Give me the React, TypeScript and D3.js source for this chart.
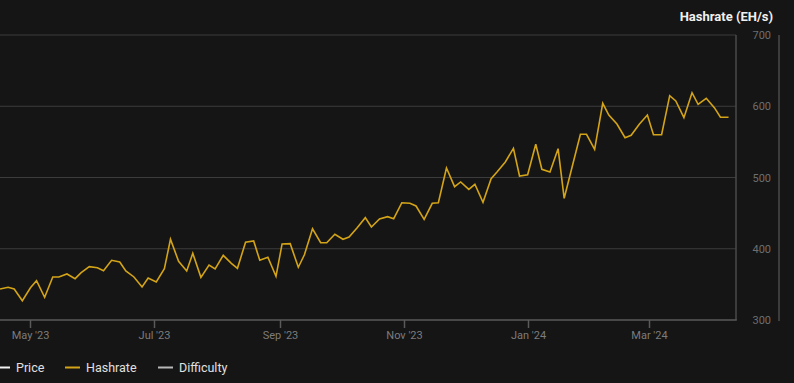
import React from "react";
import * as d3 from "d3";

const DATES: string[] = [
  "2023-04-16","2023-04-20","2023-04-23","2023-04-27","2023-05-01","2023-05-04","2023-05-08","2023-05-12",
  "2023-05-15","2023-05-19","2023-05-23","2023-05-26","2023-05-30","2023-06-03","2023-06-06","2023-06-10",
  "2023-06-14","2023-06-17","2023-06-21","2023-06-25","2023-06-28","2023-07-02","2023-07-06","2023-07-09",
  "2023-07-13","2023-07-17","2023-07-20","2023-07-24","2023-07-28","2023-07-31","2023-08-04","2023-08-08",
  "2023-08-11","2023-08-15","2023-08-19","2023-08-22","2023-08-26","2023-08-30","2023-09-02","2023-09-06",
  "2023-09-10","2023-09-13","2023-09-17","2023-09-21","2023-09-24","2023-09-28","2023-10-02","2023-10-05",
  "2023-10-09","2023-10-13","2023-10-16","2023-10-20","2023-10-24","2023-10-27","2023-10-31","2023-11-04",
  "2023-11-07","2023-11-11","2023-11-15","2023-11-18","2023-11-22","2023-11-26","2023-11-29","2023-12-03",
  "2023-12-06","2023-12-10","2023-12-14","2023-12-17","2023-12-21","2023-12-25","2023-12-28","2024-01-01",
  "2024-01-05","2024-01-08","2024-01-12","2024-01-16","2024-01-19","2024-01-23","2024-01-27","2024-01-30",
  "2024-02-03","2024-02-07","2024-02-10","2024-02-14","2024-02-18","2024-02-21","2024-02-25","2024-02-29",
  "2024-03-03","2024-03-07","2024-03-11","2024-03-14","2024-03-18","2024-03-22","2024-03-25","2024-03-29",
  "2024-04-02","2024-04-05","2024-04-09",
];

const HASHRATE: number[] = [
  343.5, 345.9, 343.5, 327.1, 345.3, 355.2, 331.9, 360.4, 360.4, 364.6,
  358.0, 366.4, 374.8, 373.4, 369.2, 383.8, 381.4, 368.8, 360.4, 346.3,
  358.9, 353.3, 372.0, 413.3, 382.4, 368.8, 393.6, 359.9, 377.2, 371.6,
  390.8, 379.6, 372.6, 409.1, 410.9, 383.8, 388.0, 361.3, 406.7, 407.1,
  374.0, 391.6, 428.1, 408.5, 408.5, 420.3, 413.3, 416.5, 429.5, 443.6,
  430.5, 441.8, 445.0, 442.2, 464.6, 463.8, 460.0, 441.3, 463.8, 464.6,
  513.3, 487.1, 493.7, 483.4, 490.5, 465.2, 498.3, 508.1, 521.8, 541.0,
  502.1, 503.9, 546.6, 511.5, 507.7, 540.4, 470.8, 515.7, 560.6, 560.6,
  539.6, 604.1, 587.7, 575.1, 555.9, 559.2, 574.7, 587.7, 560.1, 560.1,
  614.8, 607.4, 583.9, 619.0, 602.7, 611.2, 598.0, 584.5, 584.5,
];

const Y_TICKS: number[] = [300, 400, 500, 600, 700];
const X_TICKS: string[] = ["2023-05-01", "2023-07-01", "2023-09-01", "2023-11-01", "2024-01-01", "2024-03-01"];
const X_TICK_LABELS: string[] = ["May '23", "Jul '23", "Sep '23", "Nov '23", "Jan '24", "Mar '24"];
const LEGEND: { label: string; color: string }[] = [
  { label: "Price", color: "#f2f2f2" },
  { label: "Hashrate", color: "#d4a418" },
  { label: "Difficulty", color: "#b8b8b8" },
];
const TITLE = "Hashrate (EH/s)";

const W = 794;
const H = 383;
const BG = "#151515";
const FONT = "Roboto, 'Noto Sans', sans-serif";

const parse = (s: string) => {
  const [y, m, d] = s.split("-").map(Number);
  return new Date(y, m - 1, d);
};

export default function App() {
  const plotLeft = 0;
  const plotRight = 736;
  const plotTop = 35;
  const plotBottom = 320;

  const x = d3
    .scaleTime()
    .domain([new Date(2023, 3, 16, 0), new Date(2024, 3, 12, 16)])
    .range([plotLeft, plotRight]);
  const y = d3.scaleLinear().domain([300, 700]).range([plotBottom, plotTop]);

  const data = DATES.map((d, i) => ({ date: parse(d), value: HASHRATE[i] }));
  const line = d3
    .line<{ date: Date; value: number }>()
    .x((d) => x(d.date))
    .y((d) => y(d.value));

  const legendX = [0, 70, 163];

  return (
    <div style={{ position: "fixed", left: 0, top: 0, width: W, height: H, background: BG }}>
      <svg width={W} height={H} style={{ display: "block" }}>
        <rect x={0} y={0} width={W} height={H} fill={BG} />
        {/* gridlines */}
        {Y_TICKS.filter((t) => t !== 300 && t !== 700).map((t) => (
          <line key={t} x1={plotLeft} x2={plotRight} y1={y(t)} y2={y(t)} stroke="#3c3c3c" strokeWidth={1} />
        ))}
        {/* frame top & right */}
        <line x1={plotLeft} x2={plotRight} y1={y(700)} y2={y(700)} stroke="#3c3c3c" strokeWidth={1} />
        <line x1={plotRight} x2={plotRight} y1={plotTop} y2={plotBottom} stroke="#4a4a4a" strokeWidth={1.5} />
        {/* bottom axis */}
        <line x1={plotLeft} x2={plotRight + 0.75} y1={plotBottom} y2={plotBottom} stroke="#5a5a5a" strokeWidth={1.5} />
        {X_TICKS.map((t, i) => {
          const xx = Math.round(x(parse(t))) + 0.5;
          return (
            <g key={t}>
              <line x1={xx} x2={xx} y1={plotBottom} y2={plotBottom + 8} stroke="#5a5a5a" strokeWidth={1.5} />
              <text x={xx} y={plotBottom + 19} fill="#7c7c7c" fontSize={11} fontFamily={FONT} textAnchor="middle">
                {X_TICK_LABELS[i]}
              </text>
            </g>
          );
        })}
        {/* right axis */}
        <line x1={779} x2={779} y1={plotTop} y2={plotBottom + 1} stroke="#4a4a4a" strokeWidth={1.5} />
        {Y_TICKS.map((t) => (
          <text key={t} x={771} y={y(t) + 4} fill="#6e6e6e" fontSize={11} fontFamily={FONT} textAnchor="end">
            {t}
          </text>
        ))}
        <text x={773} y={21} fill="#f0f0f0" fontSize={13} fontWeight={700} fontFamily={FONT} textAnchor="end">
          {TITLE}
        </text>
        {/* series */}
        <path d={line(data) ?? ""} fill="none" stroke="#d4a418" strokeWidth={1.6} strokeLinejoin="miter" />
        {/* legend */}
        {LEGEND.map((l, i) => (
          <g key={l.label}>
            <line x1={legendX[i] - 5} x2={legendX[i] + 10} y1={367.5} y2={367.5} stroke={l.color} strokeWidth={2} />
            <text x={legendX[i] + 16} y={372} fill="#e0e0e0" fontSize={12.5} fontFamily={FONT}>
              {l.label}
            </text>
          </g>
        ))}
      </svg>
    </div>
  );
}
